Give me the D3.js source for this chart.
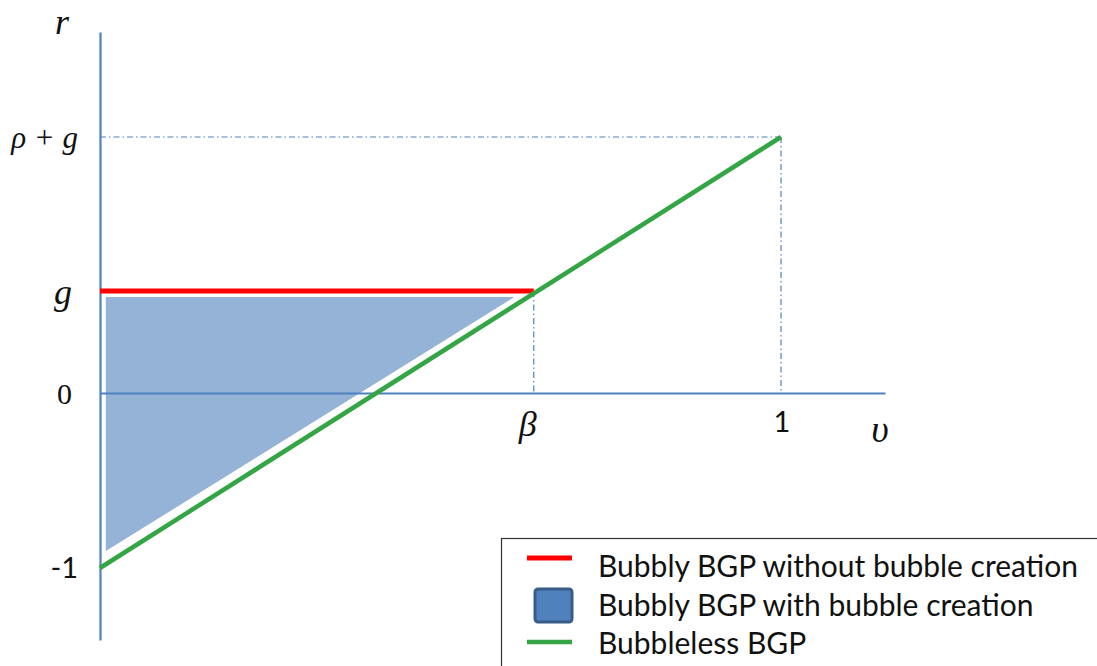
<!DOCTYPE html>
<html><head><meta charset="utf-8">
<script src="https://cdn.jsdelivr.net/npm/d3@7"></script>
<style>html,body{margin:0;padding:0;background:#fff;overflow:hidden}</style>
</head><body>
<svg id="c" width="1097" height="666"></svg>
<script>
// ---- data ----
const rTickValues = [1.463, 0.583, 0, -1];
const rTickLabels = ["ρ + g", "g", "0", "-1"];
const vTickValues = [0.637, 1];
const vTickLabels = ["β", "1"];
const redSeries = [[0, 0.583], [0.637, 0.583]];          // Bubbly BGP without bubble creation
const greenSeries = [[0, -1], [1, 1.463]];               // Bubbleless BGP
const blueArea = [[0.007, 0.555], [0.614, 0.555], [0.007, -0.914]]; // Bubbly BGP with bubble creation
const legendLabels = ["Bubbly BGP without bubble creation", "Bubbly BGP with bubble creation", "Bubbleless BGP"];

const svg = d3.select("#c");
const x = d3.scaleLinear().domain([0, 1]).range([100, 781]);
const y = d3.scaleLinear().domain([-1, 1.463]).range([568, 137]);
const axisColor = "#4f81bd";

// guide lines (dash-dot)
const guide = svg.append("g").attr("stroke", axisColor).attr("stroke-width", 1.2)
  .attr("stroke-dasharray", "6,3,1.5,3").attr("fill", "none");
guide.append("line").attr("x1", x(0)).attr("x2", x(1)).attr("y1", y(1.463)).attr("y2", y(1.463));
guide.append("line").attr("x1", x(1)).attr("x2", x(1)).attr("y1", y(1.463)).attr("y2", y(0));
guide.append("line").attr("x1", x(0.637)).attr("x2", x(0.637)).attr("y1", y(0.583)).attr("y2", y(0));

// blue area
svg.append("path").datum(blueArea)
  .attr("d", d => d3.line().x(p => x(p[0])).y(p => y(p[1]))(d) + "Z")
  .attr("fill", "#95b3d7").attr("stroke", "#ffffff").attr("stroke-width", 2);

// axes
const yAxisG = svg.append("g").attr("transform", `translate(${x(0)},0)`)
  .call(d3.axisLeft(d3.scaleLinear().domain([-1.406, 2.057]).range([640, 32])).ticks(0).tickSize(0));
yAxisG.select(".domain").attr("stroke", axisColor).attr("stroke-width", 2.2);
const xAxisG = svg.append("g").attr("transform", `translate(0,${y(0)})`)
  .call(d3.axisBottom(d3.scaleLinear().domain([0, 1.153]).range([100, 885])).ticks(0).tickSize(0));
xAxisG.select(".domain").attr("stroke", axisColor).attr("stroke-width", 2.2);

// lines
const line = d3.line().x(p => x(p[0])).y(p => y(p[1]));
svg.append("path").datum(redSeries).attr("d", line).attr("stroke", "#ff0000").attr("stroke-width", 5).attr("fill", "none");
svg.append("path").datum(greenSeries).attr("d", line).attr("stroke", "#33a544").attr("stroke-width", 4.5).attr("fill", "none");

// y labels
const serif = "'Liberation Serif', 'DejaVu Serif', serif";
const sans = "Lato, 'Liberation Sans', sans-serif";
const rLabelStyle = [
  {font: serif, style: "italic", size: 31, dx: 0},
  {font: serif, style: "italic", size: 36, dx: -6},
  {font: serif, style: "normal", size: 30, dx: -6},
  {font: sans, style: "normal", size: 29, dx: 0}
];
svg.append("g").selectAll("text").data(rTickValues).join("text")
  .attr("x", (d, i) => 78 + rLabelStyle[i].dx).attr("y", d => y(d)).attr("dy", "0.35em")
  .attr("text-anchor", "end")
  .attr("font-family", (d, i) => rLabelStyle[i].font)
  .attr("font-style", (d, i) => rLabelStyle[i].style)
  .attr("font-size", (d, i) => rLabelStyle[i].size)
  .attr("fill", "#111")
  .text((d, i) => rTickLabels[i]);

// x labels
svg.append("g").selectAll("text").data(vTickValues).join("text")
  .attr("x", d => x(d) + (d < 1 ? -6 : 1)).attr("y", (d, i) => i === 0 ? 436 : 432)
  .attr("text-anchor", "middle")
  .attr("font-family", (d, i) => i === 0 ? serif : sans)
  .attr("font-style", (d, i) => i === 0 ? "italic" : "normal")
  .attr("font-size", (d, i) => i === 0 ? 36 : 29)
  .attr("fill", "#111")
  .text((d, i) => vTickLabels[i]);

// axis titles
svg.append("text").attr("x", 62).attr("y", 34).attr("text-anchor", "middle")
  .attr("font-family", serif).attr("font-style", "italic").attr("font-size", 36).attr("fill", "#111").text("r");
svg.append("text").attr("x", 880).attr("y", 442).attr("text-anchor", "middle")
  .attr("font-family", serif).attr("font-style", "italic").attr("font-size", 38).attr("fill", "#111").text("υ");

// legend
const lg = svg.append("g");
lg.append("rect").attr("x", 501.5).attr("y", 538.5).attr("width", 640).attr("height", 160)
  .attr("fill", "#fff").attr("stroke", "#333").attr("stroke-width", 1.2);
const rowY = [566, 605, 643];
lg.append("line").attr("x1", 527).attr("x2", 572).attr("y1", 558).attr("y2", 558).attr("stroke", "#ff0000").attr("stroke-width", 5);
lg.append("rect").attr("x", 535).attr("y", 589).attr("width", 37).attr("height", 33).attr("rx", 3)
  .attr("fill", "#4f81bd").attr("stroke", "#385d8a").attr("stroke-width", 3);
lg.append("line").attr("x1", 527).attr("x2", 572).attr("y1", 642).attr("y2", 642).attr("stroke", "#33a544").attr("stroke-width", 4.5);
lg.selectAll("text.l").data(legendLabels).join("text").attr("class", "l")
  .attr("x", 598).attr("y", (d, i) => rowY[i]).attr("dy", "0.35em")
  .attr("font-family", sans).attr("font-size", 30).attr("fill", "#111").text(d => d);
</script>
</body></html>
